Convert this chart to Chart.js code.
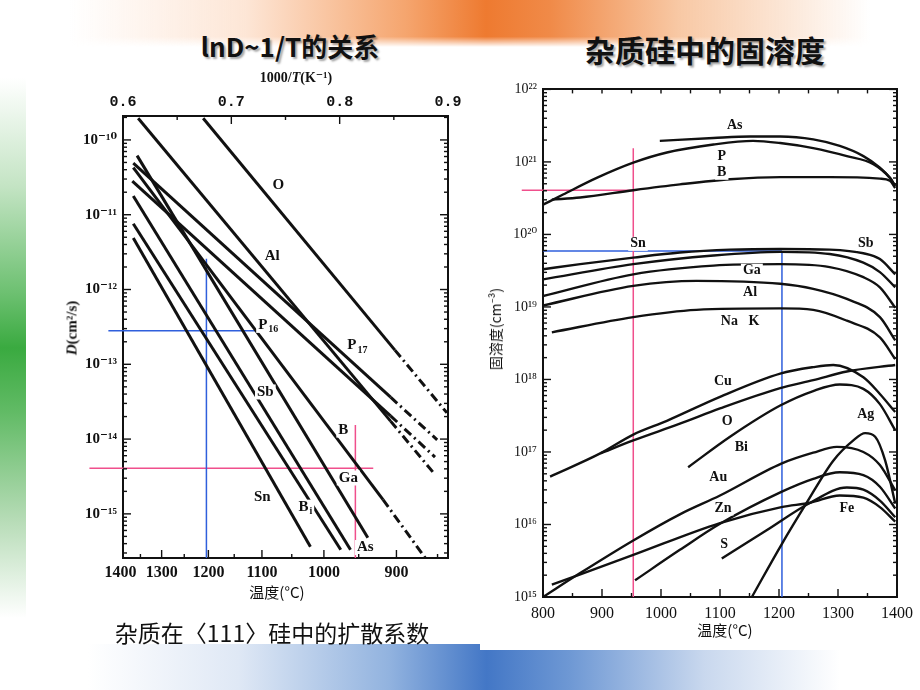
<!DOCTYPE html>
<html><head><meta charset="utf-8">
<script src="https://cdn.jsdelivr.net/npm/chart.js@4.4.1/dist/chart.umd.min.js"></script>
<style>
html,body{margin:0;padding:0;background:#fff;}
#page{position:relative;width:920px;height:690px;overflow:hidden;background:#fff;font-family:'Liberation Serif','DejaVu Serif',serif;color:#111;}
.abs{position:absolute;white-space:nowrap;line-height:1;transform:translate(-50%,-50%);}
.rot{transform:translate(-50%,-50%) rotate(-90deg);}
#bgTop{position:absolute;left:70px;top:0;width:800px;height:47px;
 background:linear-gradient(to right,rgba(255,255,255,0) 0%,#fde6d6 22%,#f5a56e 42%,#ee7a30 52%,#f08a48 60%,#f8c8a4 76%,rgba(255,255,255,0) 100%);
 -webkit-mask-image:linear-gradient(to bottom,#000 0%,#000 78%,transparent 100%);mask-image:linear-gradient(to bottom,#000 0%,#000 78%,transparent 100%);}
#bgLeft{position:absolute;left:0;top:78px;width:26px;height:540px;
 background:linear-gradient(to bottom,rgba(255,255,255,0) 0%,#c4e4c4 20%,#6cc070 40%,#3aaa40 50%,#62bb66 62%,#b7dcb7 82%,rgba(255,255,255,0) 100%);}
#bgBottom{position:absolute;left:88px;top:644px;width:752px;height:46px;
 background:linear-gradient(to right,rgba(255,255,255,0) 0%,#dfe8f5 20%,#92b3df 40%,#4377c6 53%,#6e98d4 64%,#c9d8ee 82%,rgba(255,255,255,0) 100%);}
.title{font-family:'Noto Sans CJK SC',sans-serif;font-weight:700;text-shadow:2px 2px 2px rgba(0,0,0,0.35);}
.cjk{font-family:'Noto Sans CJK SC','Liberation Serif',serif;}
</style></head>
<body>
<div id="page">
 <div id="bgTop"></div><div id="bgLeft"></div><div id="bgBottom"></div>
 <div class="abs title" style="left:290px;top:46px;font-size:26px;">lnD~1/T的关系</div>
 <div class="abs title" style="left:705px;top:49px;font-size:30px;">杂质硅中的固溶度</div>
 <div style="position:absolute;left:40px;top:60px;width:430px;height:560px;"><canvas id="c1" width="430" height="560"></canvas></div>
 <div style="position:absolute;left:480px;top:75px;width:440px;height:575px;background:#fff;"><canvas id="c2" width="440" height="570"></canvas></div>
 <div class="abs" style="left:296px;top:78px;font-size:14px;font-weight:bold;">1000/<i>T</i>(K⁻¹)</div>
 <div class="abs rot" style="left:72px;top:328px;font-size:15px;font-weight:bold;"><i>D</i>(cm²/s)</div>
 <div class="abs cjk" style="left:277px;top:591px;font-size:15px;">温度(°C)</div>
 <div class="abs cjk" style="left:725px;top:629px;font-size:15px;">温度(°C)</div>
 <div class="abs rot cjk" style="left:495px;top:329px;font-size:14px;">固溶度(cm⁻³)</div>
 <div class="abs cjk" style="left:272px;top:632px;font-size:23px;">杂质在〈111〉硅中的扩散系数</div>
</div>
<script>
// ---------- Left chart: diffusion coefficient, x = 1000/T (K^-1), y = log10 D (cm^2/s) ----------
const invT_O  = [0.674, 0.851, 0.899];   const logD_O  = [-9.71, -12.81, -13.65];
const invT_Al = [0.614, 0.847, 0.886];   const logD_Al = [-9.71, -13.76, -14.44];
const invT_P16 = [0.6095, 0.847, 0.890]; const logD_P16 = [-10.31, -13.44, -14.01];
const invT_P17 = [0.6086, 0.847, 0.888]; const logD_P17 = [-10.55, -13.69, -14.24];
const invT_Ga = [0.613, 0.826];          const logD_Ga = [-10.21, -15.32];
const invT_B  = [0.6095, 0.840, 0.879];  const logD_B  = [-10.37, -14.81, -15.59];
const invT_As = [0.6095, 0.810];         const logD_As = [-10.75, -15.48];
const invT_Bi = [0.6095, 0.801];         const logD_Bi = [-11.12, -15.48];
const invT_Sn = [0.6095, 0.773];         const logD_Sn = [-11.31, -15.44];
// guide lines (left)
const guideBlueV_x = [0.677, 0.677];   const guideBlueV_y = [-11.59, -15.59];
const guideBlueH_x = [0.5865, 0.7305]; const guideBlueH_y = [-12.55, -12.55];
const guidePinkV_x = [0.8145, 0.8145]; const guidePinkV_y = [-13.81, -15.59];
const guidePinkH_x = [0.569, 0.831];   const guidePinkH_y = [-14.39, -14.39];
// labels (left)
const labL_text = ['O','Al','P','P','Sb','B','Ga','Sn','B','As'];
const labL_sub  = ['','','16','17','','','','','i',''];
const labL_x    = [0.7435,0.7378,0.7341,0.8163,0.7314,0.8034,0.808,0.7286,0.7683,0.8236];
const labL_y    = [-10.61,-11.55,-12.48,-12.75,-13.37,-13.88,-14.52,-14.77,-14.91,-15.45];
// axis ticks (left)
const invTTickValues = [0.6,0.65,0.7,0.75,0.8,0.85,0.9];
const invTTickLabels = [0.6,0.7,0.8,0.9];
const tempTicksLeft = [1400,1350,1300,1250,1200,1150,1100,1050,1000,950,900,850];
const tempLabelsLeft = [1400,1300,1200,1100,1000,900];
const logDRange = [-15.59, -9.68];

// ---------- Right chart: solid solubility, x = T (°C), y = log10 N (cm^-3) ----------
const T_As = [998,1089,1151,1202,1258,1303,1343,1371,1388,1397];
const L_As = [21.29,21.33,21.35,21.35,21.31,21.22,21.08,20.92,20.78,20.67];
const T_P  = [800,834,891,953,1010,1089,1156,1202,1258,1315,1360,1388,1397];
const L_P  = [20.41,20.55,20.78,20.99,21.13,21.24,21.29,21.26,21.19,21.08,20.97,20.78,20.67];
const T_B  = [815,863,953,1032,1117,1202,1286,1371,1388,1397];
const L_B  = [20.48,20.51,20.61,20.69,20.76,20.79,20.79,20.77,20.74,20.64];
const T_Sb = [800,863,953,1032,1117,1202,1286,1343,1371,1397];
const L_Sb = [19.52,19.59,19.68,19.75,19.79,19.80,19.79,19.74,19.66,19.45];
const T_Sn = [800,953,1089,1202,1286,1343,1371,1397];
const L_Sn = [19.38,19.59,19.71,19.76,19.73,19.61,19.48,19.27];
const T_Ga = [800,953,1089,1202,1286,1343,1371,1397];
const L_Ga = [19.15,19.45,19.57,19.59,19.55,19.41,19.27,18.99];
const T_Al = [800,953,1060,1202,1258,1315,1371,1397];
const L_Al = [19.02,19.29,19.36,19.32,19.25,19.11,18.86,18.54];
const T_NaK = [815,953,1060,1202,1258,1315,1371,1397];
const L_NaK = [18.65,18.86,18.96,18.98,18.96,18.81,18.58,18.28];
const T_Cu = [812,897,953,1010,1100,1202,1258,1292,1343,1371,1397];
const L_Cu = [16.66,16.98,17.24,17.43,17.76,18.08,18.17,18.20,18.03,17.80,17.55];
const T_O  = [897,953,1032,1100,1202,1258,1315,1397];
const L_O  = [16.98,17.16,17.39,17.60,17.88,17.99,18.11,18.20];
const T_Bi = [1046,1117,1202,1258,1303,1343,1371,1397];
const L_Bi = [16.79,17.21,17.64,17.84,17.93,17.87,17.66,17.30];
const T_Au = [800,863,953,1032,1100,1204,1258,1298,1343,1371,1397];
const L_Au = [15.0,15.33,15.78,16.14,16.40,16.84,16.99,17.07,17.00,16.82,16.47];
const T_Zn = [815,953,1100,1204,1253,1303,1343,1371,1397];
const L_Zn = [15.17,15.58,16.02,16.24,16.30,16.40,16.37,16.24,16.04];
const T_U1 = [956,1032,1100,1204,1258,1303,1343,1371,1397];
const L_U1 = [15.23,15.65,16.01,16.45,16.63,16.72,16.68,16.52,16.22];
const T_S  = [1103,1179,1253,1315,1343,1371,1397];
const L_S  = [15.53,15.92,16.30,16.51,16.48,16.33,16.10];
const T_Ag = [1154,1204,1247,1292,1326,1346,1363,1380,1397];
const L_Ag = [15.0,15.72,16.30,16.88,17.16,17.26,17.21,16.88,16.29];
// guide lines (right)
const gPinkV_T = [953,953];  const gPinkV_L = [21.19,15];
const gPinkH_T = [764,953];  const gPinkH_L = [20.61,20.61];
const gBlueH_T = [800,1205]; const gBlueH_L = [19.77,19.77];
const gBlueV_T = [1205,1205]; const gBlueV_L = [19.77,15];
// labels (right)
const labR_text = ['As','P','B','Sn','Sb','Ga','Al','Na   K','Cu','O','Bi','Ag','Au','Zn','S','Fe'];
const labR_T = [1125,1103,1103,961,1347,1154,1151,1134,1105,1112,1136,1347,1097,1105,1107,1315];
const labR_L = [21.51,21.08,20.85,19.87,19.87,19.50,19.20,18.80,17.98,17.42,17.06,17.52,16.65,16.22,15.72,16.22];
// axis ticks (right)
const tempTicksRight = [800,850,900,950,1000,1050,1100,1150,1200,1250,1300,1350,1400];
const tempLabelsRight = [800,900,1000,1100,1200,1300,1400];
const logNRange = [15, 22];

// ---------- helpers ----------
Chart.defaults.font.family = "'Liberation Serif','DejaVu Serif',serif";
Chart.defaults.color = '#111';
Chart.defaults.animation = false;
const SUP = {'-':'⁻','0':'⁰','1':'¹','2':'²','3':'³','4':'⁴','5':'⁵','6':'⁶','7':'⁷','8':'⁸','9':'⁹'};
const sup = n => String(n).split('').map(c => SUP[c]).join('');
const pts = (xs, ls) => xs.map((x, i) => ({x, y: Math.pow(10, ls[i])}));
const PINK = '#f04f8c', BLUE = '#2f5fdc';

function logAxis(pos, range, showLabels, font, width) {
  return {
    type: 'logarithmic', position: pos,
    min: Math.pow(10, range[0]), max: Math.pow(10, range[1]),
    grid: {display: false, drawTicks: false},
    border: {display: true, color: '#111', width: 2},
    afterBuildTicks: s => {
      const t = [];
      for (let e = Math.floor(range[0]); e <= Math.ceil(range[1]); e++)
        for (let k = 1; k < 10; k++) {
          const v = k * Math.pow(10, e);
          if (v >= s.min * 0.9999 && v <= s.max * 1.0001) t.push({value: v, major: k === 1});
        }
      s.ticks = t;
    },
    afterFit: s => { s.width = width; },
    ticks: {display: showLabels, autoSkip: false, padding: 6, font, color: '#111',
      callback: (v, i, ts) => (ts[i] && ts[i].major) ? '10' + sup(Math.round(Math.log10(v))) : ''}
  };
}

const inwardTicks = {
  id: 'inwardTicks',
  afterDraw(chart) {
    const ctx = chart.ctx, a = chart.chartArea;
    ctx.save(); ctx.strokeStyle = '#111'; ctx.lineWidth = 1.4;
    for (const s of Object.values(chart.scales)) {
      for (const t of s.ticks) {
        const p = s.getPixelForValue(t.value);
        const len = t.major ? 8 : 4;
        const vert = s.position === 'left' || s.position === 'right';
        if (vert && (p < a.top - 1 || p > a.bottom + 1)) continue;
        if (!vert && (p < a.left - 1 || p > a.right + 1)) continue;
        ctx.beginPath();
        if (s.position === 'left') { ctx.moveTo(a.left, p); ctx.lineTo(a.left + len, p); }
        else if (s.position === 'right') { ctx.moveTo(a.right, p); ctx.lineTo(a.right - len, p); }
        else if (s.position === 'top') { ctx.moveTo(p, a.top); ctx.lineTo(p, a.top + len); }
        else { ctx.moveTo(p, a.bottom); ctx.lineTo(p, a.bottom - len); }
        ctx.stroke();
      }
    }
    ctx.restore();
  }
};

const curveLabels = {
  id: 'curveLabels',
  afterDatasetsDraw(chart, args, opts) {
    const ctx = chart.ctx, xs = chart.scales.x, ys = chart.scales.y;
    ctx.save();
    ctx.textBaseline = 'middle'; ctx.textAlign = 'left';
    opts.text.forEach((txt, i) => {
      const px = xs.getPixelForValue(opts.xs[i]);
      const py = ys.getPixelForValue(Math.pow(10, opts.ys[i]));
      const sub = opts.subs ? opts.subs[i] : '';
      ctx.font = opts.font;
      const w1 = ctx.measureText(txt).width;
      let w2 = 0;
      if (sub) { ctx.font = opts.subFont; w2 = ctx.measureText(sub).width + 1; }
      const w = w1 + w2, h = opts.size, x0 = px - w / 2;
      ctx.fillStyle = '#fff';
      ctx.fillRect(x0 - 2, py - h / 2, w + 4, h);
      ctx.fillStyle = '#111';
      ctx.font = opts.font; ctx.fillText(txt, x0, py);
      if (sub) { ctx.font = opts.subFont; ctx.fillText(sub, x0 + w1 + 1, py + h * 0.3); }
    });
    ctx.restore();
  }
};

const dashAfterFirst = {borderDash: c => c.p0DataIndex >= 1 ? [9, 4, 2, 4] : undefined};
function lineL(xs, ls, dashed) {
  const d = {data: pts(xs, ls), borderColor: '#111', borderWidth: 3, pointRadius: 0, fill: false, tension: 0};
  if (dashed) d.segment = dashAfterFirst;
  return d;
}
function guide(xs, ls, color) {
  return {data: pts(xs, ls), borderColor: color, borderWidth: 1.5, pointRadius: 0, fill: false, tension: 0, clip: false};
}

// ---------- left chart ----------
new Chart(document.getElementById('c1'), {
  type: 'line',
  data: {datasets: [
    lineL(invT_O, logD_O, true), lineL(invT_Al, logD_Al, true),
    lineL(invT_P16, logD_P16, true), lineL(invT_P17, logD_P17, true),
    lineL(invT_Ga, logD_Ga, false), lineL(invT_B, logD_B, true),
    lineL(invT_As, logD_As, false), lineL(invT_Bi, logD_Bi, false), lineL(invT_Sn, logD_Sn, false),
    guide(guideBlueV_x, guideBlueV_y, BLUE), guide(guideBlueH_x, guideBlueH_y, BLUE),
    guide(guidePinkV_x, guidePinkV_y, PINK), guide(guidePinkH_x, guidePinkH_y, PINK)
  ]},
  options: {
    responsive: false, animation: false,
    layout: {padding: 0},
    plugins: {legend: {display: false}, tooltip: {enabled: false},
      curveLabels: {text: labL_text, subs: labL_sub, xs: labL_x, ys: labL_y,
        font: 'bold 15px "Liberation Serif","DejaVu Serif",serif', subFont: 'bold 10px "Liberation Serif",serif', size: 15}},
    scales: {
      x: {type: 'linear', position: 'top', min: 0.6, max: 0.9,
        grid: {display: false, drawTicks: false}, border: {display: true, color: '#111', width: 2},
        afterBuildTicks: s => { s.ticks = invTTickValues.map(v => ({value: v, major: invTTickLabels.some(l => Math.abs(l - v) < 1e-9)})); },
        afterFit: s => { s.height = 56; },
        ticks: {autoSkip: false, maxRotation: 0, padding: 5, font: {family: "'Liberation Mono','DejaVu Sans Mono',monospace", size: 15, weight: 'bold'},
          callback: (v, i, ts) => ts[i].major ? v.toFixed(1) : ''}},
      xT: {type: 'linear', position: 'bottom', min: 0.6, max: 0.9,
        grid: {display: false, drawTicks: false}, border: {display: true, color: '#111', width: 2},
        afterBuildTicks: s => { s.ticks = tempTicksLeft.map(T => ({value: 1000 / (T + 273.15), tempC: T, major: tempLabelsLeft.includes(T)})); },
        afterFit: s => { s.height = 62; },
        ticks: {autoSkip: false, maxRotation: 0, padding: 5, font: {size: 16, weight: 'bold'},
          callback: (v, i, ts) => ts[i].major ? String(ts[i].tempC) : ''}},
      y: logAxis('left', logDRange, true, {size: 15, weight: 'bold'}, 83),
      y2: logAxis('right', logDRange, false, {size: 12}, 22)
    }
  },
  plugins: [inwardTicks, curveLabels]
});

// ---------- right chart ----------
function lineR(ts, ls) {
  return {data: pts(ts, ls), borderColor: '#111', borderWidth: 2.4, pointRadius: 0, fill: false, cubicInterpolationMode: 'monotone'};
}
new Chart(document.getElementById('c2'), {
  type: 'line',
  data: {datasets: [
    lineR(T_As, L_As), lineR(T_P, L_P), lineR(T_B, L_B),
    lineR(T_Sb, L_Sb), lineR(T_Sn, L_Sn), lineR(T_Ga, L_Ga), lineR(T_Al, L_Al), lineR(T_NaK, L_NaK),
    lineR(T_Cu, L_Cu), lineR(T_O, L_O), lineR(T_Bi, L_Bi),
    lineR(T_Au, L_Au), lineR(T_Zn, L_Zn), lineR(T_U1, L_U1), lineR(T_S, L_S), lineR(T_Ag, L_Ag),
    guide(gPinkV_T, gPinkV_L, PINK), guide(gPinkH_T, gPinkH_L, PINK),
    guide(gBlueH_T, gBlueH_L, BLUE), guide(gBlueV_T, gBlueV_L, BLUE)
  ]},
  options: {
    responsive: false, animation: false,
    layout: {padding: 0},
    plugins: {legend: {display: false}, tooltip: {enabled: false},
      curveLabels: {text: labR_text, xs: labR_T, ys: labR_L,
        font: 'bold 14px "Liberation Serif","DejaVu Serif",serif', subFont: '10px serif', size: 14}},
    scales: {
      x: {type: 'linear', position: 'bottom', min: 800, max: 1400,
        grid: {display: false, drawTicks: false}, border: {display: true, color: '#111', width: 2},
        afterBuildTicks: s => { s.ticks = tempTicksRight.map(T => ({value: T, major: tempLabelsRight.includes(T)})); },
        afterFit: s => { s.height = 48; },
        ticks: {autoSkip: false, maxRotation: 0, padding: 7, font: {size: 16},
          callback: (v, i, ts) => ts[i].major ? String(v) : ''}},
      x2: {type: 'linear', position: 'top', min: 800, max: 1400,
        grid: {display: false, drawTicks: false}, border: {display: true, color: '#111', width: 2},
        afterBuildTicks: s => { s.ticks = tempTicksRight.map(T => ({value: T, major: false})); },
        afterFit: s => { s.height = 13; },
        ticks: {display: false}},
      y: logAxis('left', logNRange, true, {size: 14}, 63),
      y2: logAxis('right', logNRange, false, {size: 12}, 23)
    }
  },
  plugins: [inwardTicks, curveLabels]
});
</script>
</body></html>
